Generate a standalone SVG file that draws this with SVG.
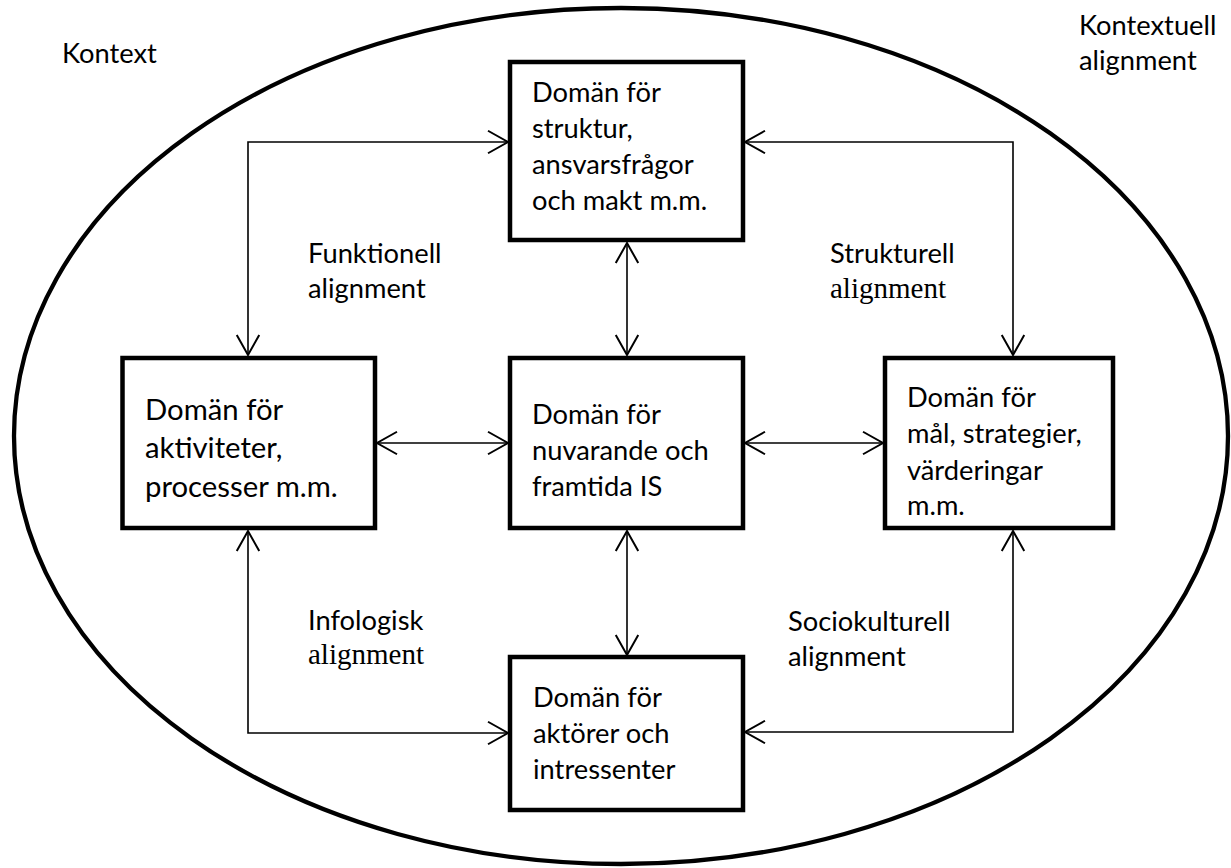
<svg xmlns="http://www.w3.org/2000/svg" width="1231" height="868" viewBox="0 0 1231 868">
<style>
.box{fill:#fff;stroke:#000;stroke-width:4.5}
.t{font-family:Lato,"Liberation Sans",sans-serif;font-size:27.3px;fill:#000}
.tl{font-family:Lato,"Liberation Sans",sans-serif;font-size:29.3px;fill:#000}
.s{font-family:"Liberation Serif",serif;font-size:29px;fill:#000}
.c{fill:none;stroke:#000;stroke-width:1.6}
</style>
<defs>
<marker id="ah" markerUnits="userSpaceOnUse" markerWidth="30" markerHeight="30" viewBox="-20 -12 24 24" refX="0" refY="0" orient="auto-start-reverse">
<path d="M -16 -9 L 0 0 L -16 9" fill="none" stroke="#000" stroke-width="1.6"/>
</marker>
</defs>
<rect width="1231" height="868" fill="#fff"/>
<ellipse cx="621" cy="436" rx="607" ry="428" fill="none" stroke="#000" stroke-width="4.3"/>
<text class="t" x="62" y="63">Kontext</text>
<text class="t" x="1079" y="35">Kontextuell</text>
<text class="t" x="1079" y="70">alignment</text>
<g id="connectors">
<path class="c" d="M 508 142 H 248 V 355" marker-start="url(#ah)" marker-end="url(#ah)"/>
<path class="c" d="M 745 142 H 1013 V 355" marker-start="url(#ah)" marker-end="url(#ah)"/>
<path class="c" d="M 627 243 V 355" marker-start="url(#ah)" marker-end="url(#ah)"/>
<path class="c" d="M 377 443 H 508" marker-start="url(#ah)" marker-end="url(#ah)"/>
<path class="c" d="M 745 443 H 883" marker-start="url(#ah)" marker-end="url(#ah)"/>
<path class="c" d="M 627 531 V 655" marker-start="url(#ah)" marker-end="url(#ah)"/>
<path class="c" d="M 248 531 V 733 H 508" marker-start="url(#ah)" marker-end="url(#ah)"/>
<path class="c" d="M 1013 531 V 732 H 745" marker-start="url(#ah)" marker-end="url(#ah)"/>
</g>
<g id="lbl-funktionell">
<text class="t" x="308" y="263">Funktionell</text>
<text class="t" x="308" y="298">alignment</text>
</g>
<g id="lbl-strukturell">
<text class="t" x="830" y="263">Strukturell</text>
<text class="s" x="830" y="298">alignment</text>
</g>
<g id="lbl-infologisk">
<text class="t" x="308" y="630">Infologisk</text>
<text class="s" x="308" y="664">alignment</text>
</g>
<g id="lbl-sociokulturell">
<text class="t" x="788" y="631">Sociokulturell</text>
<text class="t" x="788" y="666">alignment</text>
</g>
<g id="node-struktur">
<rect class="box" x="510" y="62" width="233" height="178"/>
<text class="t" x="532" y="102">Domän för</text>
<text class="t" x="532" y="138">struktur,</text>
<text class="t" x="532" y="174">ansvarsfrågor</text>
<text class="t" x="532" y="210">och makt m.m.</text>
</g>
<g id="node-aktiviteter">
<rect class="box" x="122.5" y="358" width="252.5" height="170"/>
<text class="tl" x="145" y="420">Domän för</text>
<text class="tl" x="145" y="458">aktiviteter,</text>
<text class="tl" x="145" y="497">processer m.m.</text>
</g>
<g id="node-is">
<rect class="box" x="510" y="358" width="233" height="170"/>
<text class="t" x="532" y="424">Domän för</text>
<text class="t" x="532" y="460">nuvarande och</text>
<text class="t" x="532" y="496">framtida IS</text>
</g>
<g id="node-mal">
<rect class="box" x="885" y="358" width="228" height="170"/>
<text class="t" x="907" y="407">Domän för</text>
<text class="t" x="907" y="443">mål, strategier,</text>
<text class="t" x="907" y="480">värderingar</text>
<text class="t" x="907" y="515">m.m.</text>
</g>
<g id="node-aktorer">
<rect class="box" x="510" y="657" width="233" height="153"/>
<text class="t" x="533" y="707">Domän för</text>
<text class="t" x="533" y="743">aktörer och</text>
<text class="t" x="533" y="779">intressenter</text>
</g>
</svg>
